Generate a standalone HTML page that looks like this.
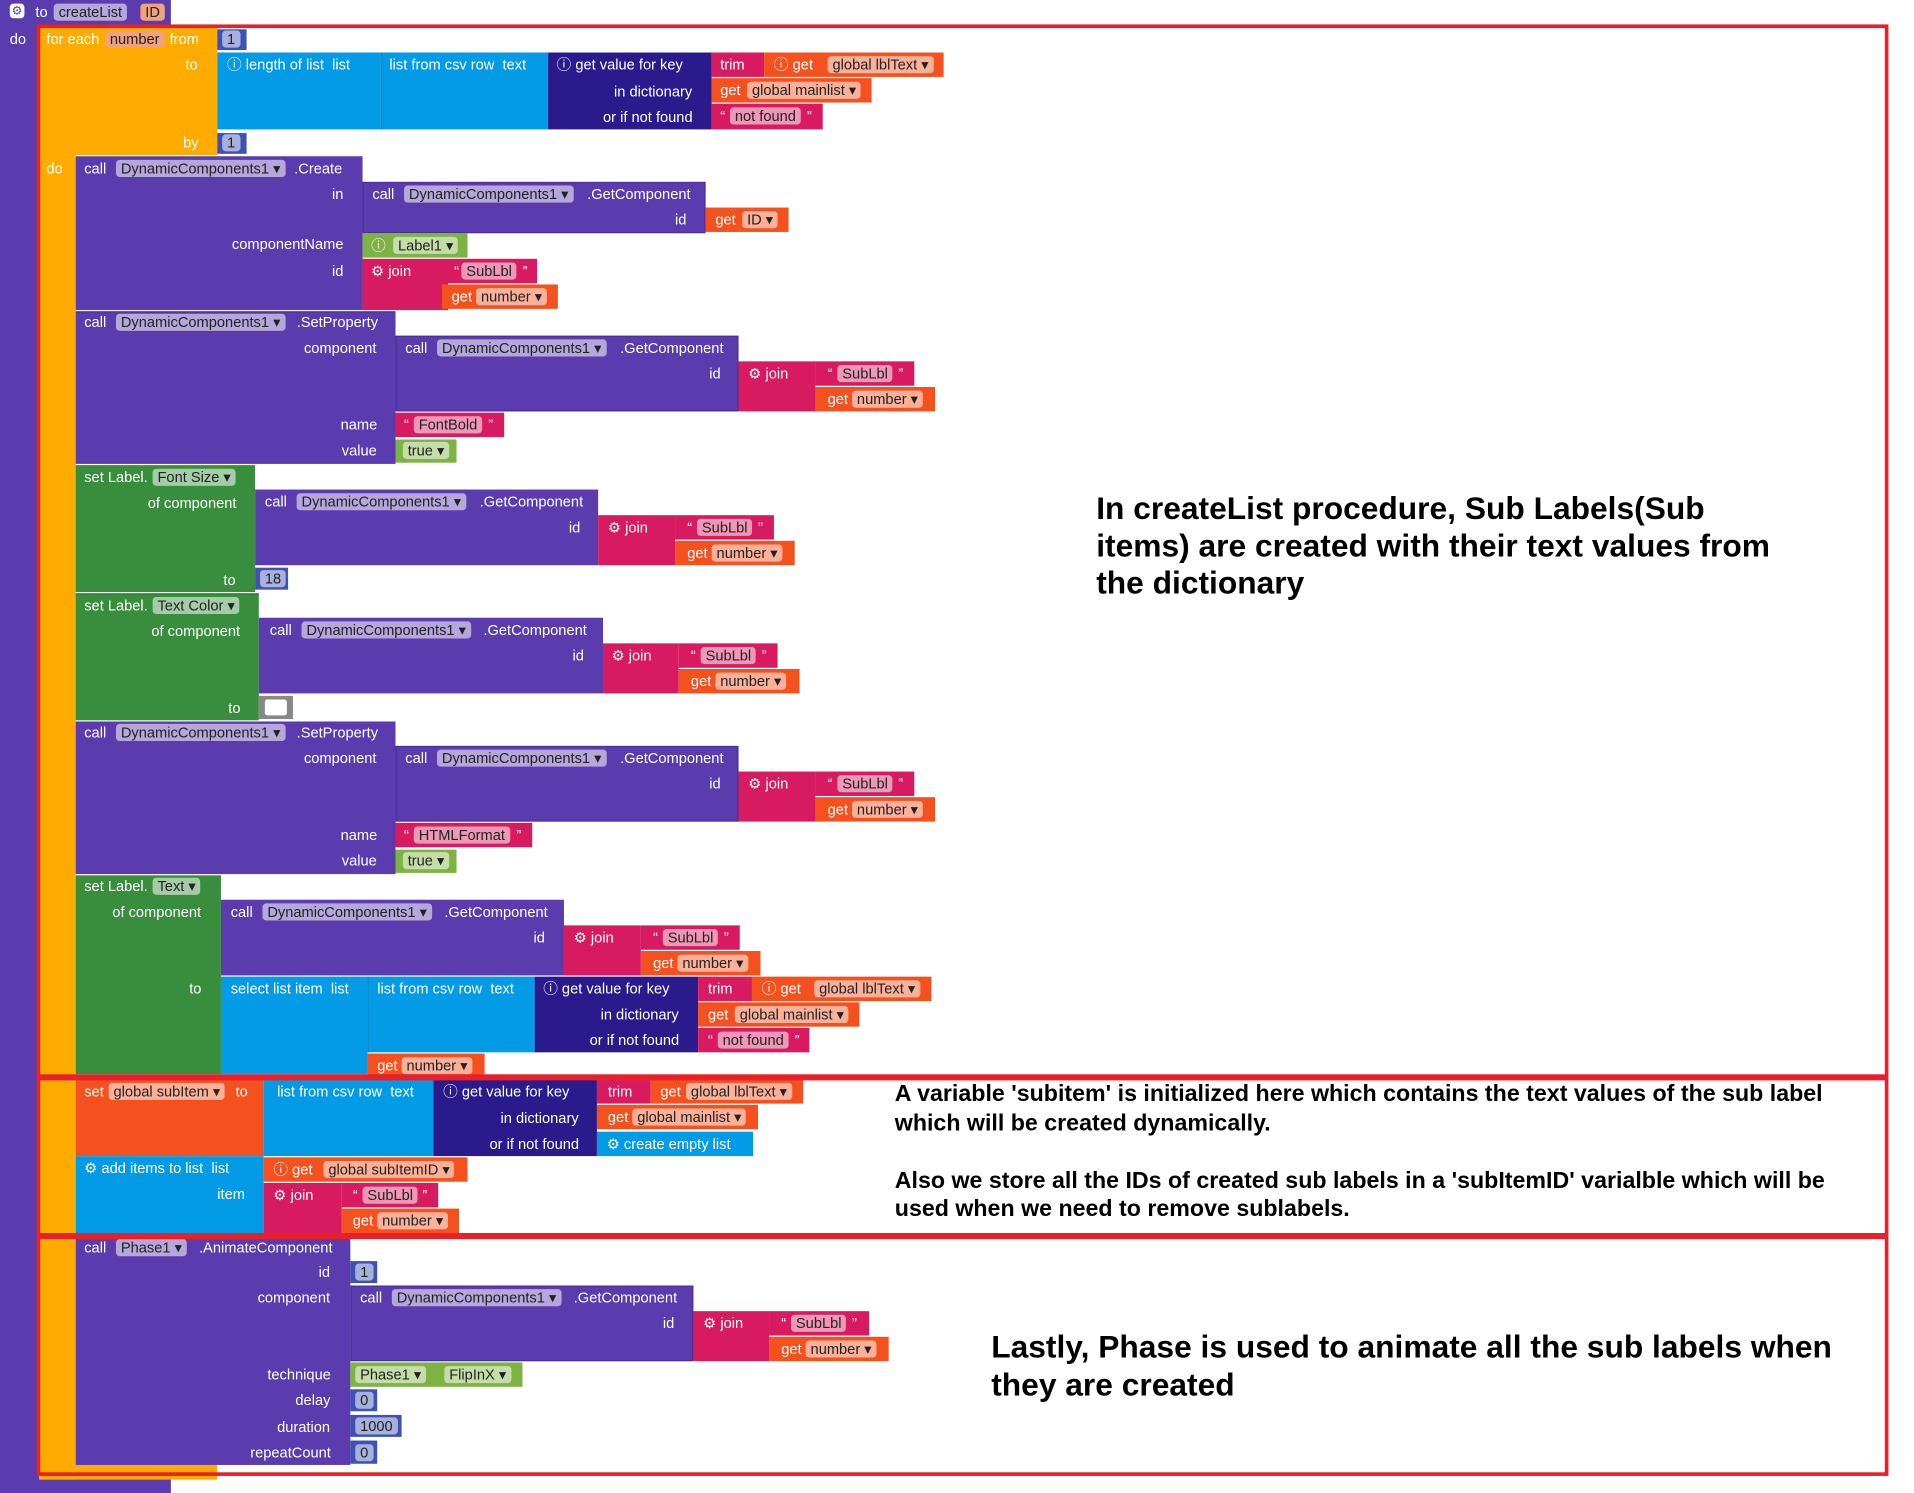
<!DOCTYPE html>
<html><head><meta charset="utf-8"><style>
html,body{margin:0;padding:0;background:#fff;width:1914px;height:1493px;overflow:hidden}
#w{position:absolute;left:0;top:0;width:1568px;height:1223px;transform-origin:0 0;transform:scale(1.2207,1.2208)}
.b{position:absolute;box-sizing:border-box}
i{position:absolute;font-style:normal;color:#fff;font:12px "Liberation Sans",sans-serif;white-space:nowrap;line-height:14px}
i.f{background:rgba(255,255,255,.55);color:#222;padding:0 4px;border-radius:3px}
.r{position:absolute;border:3px solid #e8202a;box-sizing:border-box}
.t{position:absolute;font:bold 26px "Liberation Sans",sans-serif;color:#000;line-height:30.5px}
</style></head><body><div id="w">
<div class=b style="left:0;top:0;width:140px;height:21px;background:#5b3cae"></div>
<div class=b style="left:0;top:0;width:32px;height:1223px;background:#5b3cae"></div>
<div class=b style="left:0;top:1208px;width:140px;height:15px;background:#5b3cae"></div>
<i style="left:8px;top:3px;background:#fff;color:#5b3cae;width:12px;height:12px;border-radius:3px;font-size:10px;text-align:center">⚙</i>
<i style="left:29px;top:3px">to</i><i class=f style="left:44px;top:3px">createList</i><i class=f style="left:115px;top:3px;background:#f0a37a">ID</i>
<i style="left:8px;top:25px">do</i>
<div class=b style="left:32px;top:22px;width:146px;height:105px;background:#ffab00"></div>
<div class=b style="left:32px;top:22px;width:30px;height:1190px;background:#ffab00"></div>
<div class=b style="left:32px;top:1200px;width:146px;height:12px;background:#ffab00"></div>
<i style="left:38px;top:25px">for each</i><i class=f style="left:86px;top:25px;background:#f0a37a">number</i><i style="left:139px;top:25px">from</i>
<i style="left:152px;top:46px">to</i><i style="left:150px;top:110px">by</i><i style="left:38px;top:131px">do</i>
<div class=b style="left:178px;top:24px;width:24px;height:17px;background:#3f51b5"></div><i class=f style="left:182px;top:25px">1</i>
<div class=b style="left:178px;top:109px;width:24px;height:17px;background:#3f51b5"></div><i class=f style="left:182px;top:110px">1</i>
<div class=b style="left:178px;top:43px;width:134px;height:63px;background:#039be5"></div><i style="left:186px;top:46px">ⓘ length of list &nbsp;list</i>
<div class=b style="left:312px;top:43px;width:137px;height:63px;background:#039be5;border-left:1px solid #0288c8"></div><i style="left:319px;top:46px">list from csv row &nbsp;text</i>
<div class=b style="left:449px;top:43px;width:134px;height:63px;background:#2a1a8c"></div><i style="left:456px;top:46px">ⓘ get value for key</i><i style="left:503px;top:68px">in dictionary</i><i style="left:494px;top:89px">or if not found</i>
<div class=b style="left:583px;top:43px;width:43px;height:20px;background:#d81b60"></div><i style="left:590px;top:46px">trim</i>
<div class=b style="left:626px;top:43px;width:147px;height:20px;background:#f4511e"></div><i style="left:634px;top:46px">ⓘ get</i><i class=f style="left:678px;top:46px">global lblText ▾</i>
<div class=b style="left:583px;top:64px;width:131px;height:20px;background:#f4511e"></div><i style="left:590px;top:67px">get</i><i class=f style="left:612px;top:67px">global mainlist ▾</i>
<div class=b style="left:583px;top:85px;width:91px;height:21px;background:#d81b60"></div><i style="left:590px;top:88px">“</i><i class=f style="left:598px;top:88px">not found</i><i style="left:661px;top:88px">”</i>
<div class=b style="left:62px;top:128px;width:235px;height:126px;background:#5b3cae"></div>
<i style="left:69px;top:131px">call</i><i class=f style="left:95px;top:131px">DynamicComponents1 ▾</i><i style="left:241px;top:131px">.Create</i>
<i style="left:272px;top:152px">in</i><i style="left:190px;top:193px">componentName</i><i style="left:272px;top:215px">id</i>
<div class=b style="left:297px;top:149px;width:281px;height:42px;background:#5b3cae;border:1px solid #4a2f98"></div>
<i style="left:305px;top:152px">call</i><i class=f style="left:331px;top:152px">DynamicComponents1 ▾</i><i style="left:481px;top:152px">.GetComponent</i><i style="left:553px;top:173px">id</i>
<div class=b style="left:578px;top:170px;width:68px;height:20px;background:#f4511e"></div><i style="left:586px;top:173px">get</i><i class=f style="left:608px;top:173px">ID ▾</i>
<div class=b style="left:297px;top:191px;width:86px;height:20px;background:#7cb342"></div><i style="left:304px;top:194px">ⓘ</i><i class=f style="left:322px;top:194px">Label1 ▾</i>
<div class=b style="left:297px;top:212px;width:70px;height:42px;background:#d81b60"></div><i style="left:304px;top:215px">⚙ join</i>
<div class=b style="left:367px;top:212px;width:73px;height:20px;background:#d81b60"></div><i style="left:372px;top:215px">“</i><i class=f style="left:378px;top:215px">SubLbl</i><i style="left:428px;top:215px">”</i>
<div class=b style="left:362px;top:233px;width:95px;height:20px;background:#f4511e"></div><i style="left:370px;top:236px">get</i><i class=f style="left:390px;top:236px">number ▾</i>
<div class=b style="left:62px;top:255px;width:262px;height:125px;background:#5b3cae;border-top:1px solid #4a2f98"></div>
<i style="left:69px;top:257px">call</i><i class=f style="left:95px;top:257px">DynamicComponents1 ▾</i><i style="left:243px;top:257px">.SetProperty</i>
<i style="left:249px;top:278px">component</i><i style="left:279px;top:341px">name</i><i style="left:280px;top:362px">value</i>
<div class=b style="left:324px;top:275px;width:281px;height:62px;background:#5b3cae;border:1px solid #4a2f98"></div>
<i style="left:332px;top:278px">call</i><i class=f style="left:358px;top:278px">DynamicComponents1 ▾</i><i style="left:508px;top:278px">.GetComponent</i><i style="left:581px;top:299px">id</i>
<div class=b style="left:605px;top:296px;width:63px;height:41px;background:#d81b60"></div><i style="left:613px;top:299px">⚙ join</i>
<div class=b style="left:668px;top:296px;width:81px;height:20px;background:#d81b60"></div><i style="left:678px;top:299px">“</i><i class=f style="left:686px;top:299px">SubLbl</i><i style="left:736px;top:299px">”</i>
<div class=b style="left:668px;top:317px;width:98px;height:20px;background:#f4511e"></div><i style="left:678px;top:320px">get</i><i class=f style="left:698px;top:320px">number ▾</i>
<div class=b style="left:324px;top:338px;width:89px;height:20px;background:#d81b60"></div><i style="left:331px;top:341px">“</i><i class=f style="left:339px;top:341px">FontBold</i><i style="left:400px;top:341px">”</i>
<div class=b style="left:324px;top:360px;width:50px;height:19px;background:#7cb342"></div><i class=f style="left:330px;top:362px">true ▾</i>
<div class=b style="left:62px;top:381px;width:147px;height:104px;background:#388e3c"></div>
<i style="left:69px;top:384px">set Label.</i><i class=f style="left:125px;top:384px">Font Size ▾</i><i style="left:121px;top:405px">of component</i><i style="left:183px;top:468px">to</i>
<div class=b style="left:209px;top:401px;width:281px;height:62px;background:#5b3cae"></div>
<i style="left:217px;top:404px">call</i><i class=f style="left:243px;top:404px">DynamicComponents1 ▾</i><i style="left:393px;top:404px">.GetComponent</i><i style="left:466px;top:425px">id</i>
<div class=b style="left:490px;top:422px;width:63px;height:41px;background:#d81b60"></div><i style="left:498px;top:425px">⚙ join</i>
<div class=b style="left:553px;top:422px;width:81px;height:20px;background:#d81b60"></div><i style="left:563px;top:425px">“</i><i class=f style="left:571px;top:425px">SubLbl</i><i style="left:621px;top:425px">”</i>
<div class=b style="left:553px;top:443px;width:98px;height:20px;background:#f4511e"></div><i style="left:563px;top:446px">get</i><i class=f style="left:583px;top:446px">number ▾</i>
<div class=b style="left:209px;top:465px;width:27px;height:18px;background:#3f51b5"></div><i class=f style="left:213px;top:467px">18</i>
<div class=b style="left:62px;top:486px;width:150px;height:104px;background:#388e3c;border-top:1px solid #2e7a32"></div>
<i style="left:69px;top:489px">set Label.</i><i class=f style="left:125px;top:489px">Text Color ▾</i><i style="left:124px;top:510px">of component</i><i style="left:187px;top:573px">to</i>
<div class=b style="left:212px;top:506px;width:282px;height:62px;background:#5b3cae"></div>
<i style="left:221px;top:509px">call</i><i class=f style="left:247px;top:509px">DynamicComponents1 ▾</i><i style="left:396px;top:509px">.GetComponent</i><i style="left:469px;top:530px">id</i>
<div class=b style="left:494px;top:527px;width:62px;height:41px;background:#d81b60"></div><i style="left:501px;top:530px">⚙ join</i>
<div class=b style="left:556px;top:527px;width:81px;height:20px;background:#d81b60"></div><i style="left:566px;top:530px">“</i><i class=f style="left:574px;top:530px">SubLbl</i><i style="left:624px;top:530px">”</i>
<div class=b style="left:556px;top:548px;width:99px;height:20px;background:#f4511e"></div><i style="left:566px;top:551px">get</i><i class=f style="left:586px;top:551px">number ▾</i>
<div class=b style="left:212px;top:570px;width:28px;height:19px;background:#888"></div><div class=b style="left:217px;top:573px;width:18px;height:13px;background:#fff;border-radius:2px"></div>
<div class=b style="left:62px;top:591px;width:262px;height:125px;background:#5b3cae"></div>
<i style="left:69px;top:593px">call</i><i class=f style="left:95px;top:593px">DynamicComponents1 ▾</i><i style="left:243px;top:593px">.SetProperty</i>
<i style="left:249px;top:614px">component</i><i style="left:279px;top:677px">name</i><i style="left:280px;top:698px">value</i>
<div class=b style="left:324px;top:611px;width:281px;height:62px;background:#5b3cae;border:1px solid #4a2f98"></div>
<i style="left:332px;top:614px">call</i><i class=f style="left:358px;top:614px">DynamicComponents1 ▾</i><i style="left:508px;top:614px">.GetComponent</i><i style="left:581px;top:635px">id</i>
<div class=b style="left:605px;top:632px;width:63px;height:41px;background:#d81b60"></div><i style="left:613px;top:635px">⚙ join</i>
<div class=b style="left:668px;top:632px;width:81px;height:20px;background:#d81b60"></div><i style="left:678px;top:635px">“</i><i class=f style="left:686px;top:635px">SubLbl</i><i style="left:736px;top:635px">”</i>
<div class=b style="left:668px;top:653px;width:98px;height:20px;background:#f4511e"></div><i style="left:678px;top:656px">get</i><i class=f style="left:698px;top:656px">number ▾</i>
<div class=b style="left:324px;top:674px;width:112px;height:20px;background:#d81b60"></div><i style="left:331px;top:677px">“</i><i class=f style="left:339px;top:677px">HTMLFormat</i><i style="left:423px;top:677px">”</i>
<div class=b style="left:324px;top:696px;width:50px;height:19px;background:#7cb342"></div><i class=f style="left:330px;top:698px">true ▾</i>
<div class=b style="left:62px;top:717px;width:119px;height:163px;background:#388e3c"></div>
<i style="left:69px;top:719px">set Label.</i><i class=f style="left:125px;top:719px">Text ▾</i><i style="left:92px;top:740px">of component</i><i style="left:155px;top:803px">to</i><i style="left:257px;top:866px">index</i>
<div class=b style="left:181px;top:737px;width:281px;height:62px;background:#5b3cae"></div>
<i style="left:189px;top:740px">call</i><i class=f style="left:215px;top:740px">DynamicComponents1 ▾</i><i style="left:364px;top:740px">.GetComponent</i><i style="left:437px;top:761px">id</i>
<div class=b style="left:462px;top:758px;width:63px;height:41px;background:#d81b60"></div><i style="left:470px;top:761px">⚙ join</i>
<div class=b style="left:525px;top:758px;width:81px;height:20px;background:#d81b60"></div><i style="left:535px;top:761px">“</i><i class=f style="left:543px;top:761px">SubLbl</i><i style="left:593px;top:761px">”</i>
<div class=b style="left:525px;top:779px;width:98px;height:20px;background:#f4511e"></div><i style="left:535px;top:782px">get</i><i class=f style="left:555px;top:782px">number ▾</i>
<div class=b style="left:181px;top:800px;width:120px;height:80px;background:#039be5"></div><i style="left:189px;top:803px">select list item &nbsp;list</i>
<div class=b style="left:301px;top:800px;width:137px;height:62px;background:#039be5;border-left:1px solid #0288c8"></div><i style="left:309px;top:803px">list from csv row &nbsp;text</i>
<div class=b style="left:438px;top:800px;width:134px;height:62px;background:#2a1a8c"></div><i style="left:445px;top:803px">ⓘ get value for key</i><i style="left:492px;top:824px">in dictionary</i><i style="left:483px;top:845px">or if not found</i>
<div class=b style="left:572px;top:800px;width:44px;height:20px;background:#d81b60"></div><i style="left:580px;top:803px">trim</i>
<div class=b style="left:616px;top:800px;width:147px;height:20px;background:#f4511e"></div><i style="left:624px;top:803px">ⓘ get</i><i class=f style="left:667px;top:803px">global lblText ▾</i>
<div class=b style="left:572px;top:821px;width:132px;height:20px;background:#f4511e"></div><i style="left:580px;top:824px">get</i><i class=f style="left:602px;top:824px">global mainlist ▾</i>
<div class=b style="left:572px;top:842px;width:91px;height:20px;background:#d81b60"></div><i style="left:580px;top:845px">“</i><i class=f style="left:588px;top:845px">not found</i><i style="left:651px;top:845px">”</i>
<div class=b style="left:301px;top:863px;width:96px;height:19px;background:#f4511e"></div><i style="left:309px;top:866px">get</i><i class=f style="left:329px;top:866px">number ▾</i>
<div class=b style="left:62px;top:884px;width:154px;height:63px;background:#f4511e"></div>
<i style="left:69px;top:887px">set</i><i class=f style="left:89px;top:887px">global subItem ▾</i><i style="left:193px;top:887px">to</i>
<div class=b style="left:216px;top:884px;width:139px;height:63px;background:#039be5"></div><i style="left:227px;top:887px">list from csv row &nbsp;text</i>
<div class=b style="left:355px;top:884px;width:134px;height:63px;background:#2a1a8c"></div><i style="left:363px;top:887px">ⓘ get value for key</i><i style="left:410px;top:909px">in dictionary</i><i style="left:401px;top:930px">or if not found</i>
<div class=b style="left:489px;top:884px;width:44px;height:20px;background:#d81b60"></div><i style="left:498px;top:887px">trim</i>
<div class=b style="left:533px;top:884px;width:125px;height:20px;background:#f4511e"></div><i style="left:541px;top:887px">get</i><i class=f style="left:562px;top:887px">global lblText ▾</i>
<div class=b style="left:489px;top:905px;width:132px;height:20px;background:#f4511e"></div><i style="left:498px;top:908px">get</i><i class=f style="left:518px;top:908px">global mainlist ▾</i>
<div class=b style="left:489px;top:927px;width:128px;height:20px;background:#039be5"></div><i style="left:497px;top:930px">⚙ create empty list</i>
<div class=b style="left:62px;top:947px;width:154px;height:63px;background:#039be5"></div>
<i style="left:69px;top:950px">⚙ add items to list &nbsp;list</i><i style="left:178px;top:971px">item</i>
<div class=b style="left:216px;top:948px;width:167px;height:20px;background:#f4511e"></div><i style="left:224px;top:951px">ⓘ get</i><i class=f style="left:265px;top:951px">global subItemID ▾</i>
<div class=b style="left:216px;top:969px;width:64px;height:41px;background:#d81b60"></div><i style="left:224px;top:972px">⚙ join</i>
<div class=b style="left:280px;top:969px;width:79px;height:20px;background:#d81b60"></div><i style="left:289px;top:972px">“</i><i class=f style="left:297px;top:972px">SubLbl</i><i style="left:346px;top:972px">”</i>
<div class=b style="left:280px;top:990px;width:96px;height:20px;background:#f4511e"></div><i style="left:289px;top:993px">get</i><i class=f style="left:309px;top:993px">number ▾</i>
<div class=b style="left:62px;top:1012px;width:225px;height:188px;background:#5b3cae"></div>
<i style="left:69px;top:1015px">call</i><i class=f style="left:95px;top:1015px">Phase1 ▾</i><i style="left:163px;top:1015px">.AnimateComponent</i>
<i style="left:261px;top:1035px">id</i><i style="left:211px;top:1056px">component</i><i style="left:219px;top:1119px">technique</i><i style="left:242px;top:1140px">delay</i><i style="left:227px;top:1162px">duration</i><i style="left:205px;top:1183px">repeatCount</i>
<div class=b style="left:287px;top:1033px;width:22px;height:18px;background:#3f51b5"></div><i class=f style="left:291px;top:1035px">1</i>
<div class=b style="left:287px;top:1053px;width:281px;height:62px;background:#5b3cae;border:1px solid #4a2f98"></div>
<i style="left:295px;top:1056px">call</i><i class=f style="left:321px;top:1056px">DynamicComponents1 ▾</i><i style="left:470px;top:1056px">.GetComponent</i><i style="left:543px;top:1077px">id</i>
<div class=b style="left:568px;top:1074px;width:62px;height:41px;background:#d81b60"></div><i style="left:576px;top:1077px">⚙ join</i>
<div class=b style="left:630px;top:1074px;width:82px;height:20px;background:#d81b60"></div><i style="left:640px;top:1077px">“</i><i class=f style="left:648px;top:1077px">SubLbl</i><i style="left:698px;top:1077px">”</i>
<div class=b style="left:630px;top:1095px;width:98px;height:20px;background:#f4511e"></div><i style="left:640px;top:1098px">get</i><i class=f style="left:660px;top:1098px">number ▾</i>
<div class=b style="left:287px;top:1116px;width:141px;height:20px;background:#7cb342"></div><i class=f style="left:291px;top:1119px">Phase1 ▾</i><i class=f style="left:364px;top:1119px">FlipInX ▾</i>
<div class=b style="left:287px;top:1138px;width:22px;height:18px;background:#3f51b5"></div><i class=f style="left:291px;top:1140px">0</i>
<div class=b style="left:287px;top:1159px;width:42px;height:18px;background:#3f51b5"></div><i class=f style="left:291px;top:1161px">1000</i>
<div class=b style="left:287px;top:1180px;width:22px;height:19px;background:#3f51b5"></div><i class=f style="left:291px;top:1183px">0</i>
<div class=r style="left:30px;top:20px;width:1517px;height:863px"></div>
<div class=r style="left:30px;top:882px;width:1517px;height:131px"></div>
<div class=r style="left:30px;top:1012px;width:1517px;height:197px"></div>
<div class=t style="left:898px;top:401px;width:575px">In createList procedure, Sub Labels(Sub items) are created with their text values from the dictionary</div>
<div class=t style="left:733px;top:885px;font-size:19px;line-height:23.5px;width:800px">A variable 'subitem' is initialized here which contains the text values of the sub label which will be created dynamically.<br><br>Also we store all the IDs of created sub labels in a 'subItemID' varialble which will be used when we need to remove sublabels.</div>
<div class=t style="left:812px;top:1088px;width:715px">Lastly, Phase is used to animate all the sub labels when they are created</div>
</div></body></html>
